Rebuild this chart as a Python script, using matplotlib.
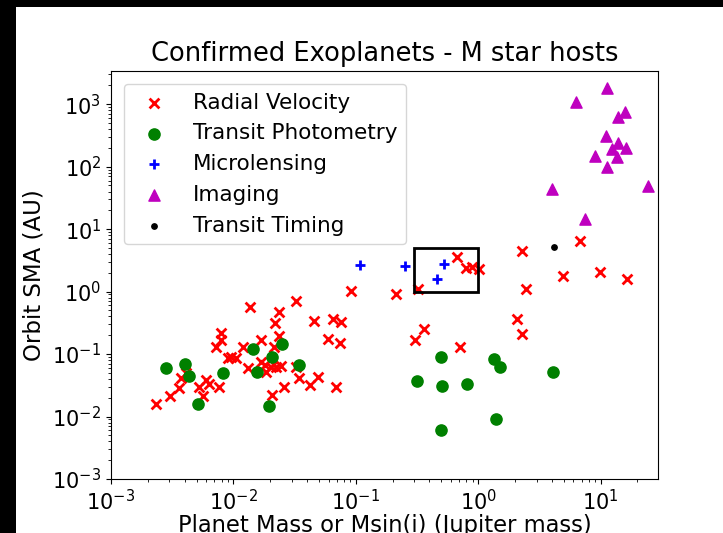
import matplotlib
matplotlib.use('Agg')
import matplotlib.pyplot as plt
from matplotlib.patches import Rectangle

# planet mass (Jupiter masses) and orbit semi-major axis (AU)
rv_mass = [0.00234, 0.00306, 0.00358, 0.00374, 0.00411, 0.00528, 0.00562, 0.0060, 0.00638, 0.00769,
           0.00723, 0.00794, 0.00794, 0.00899, 0.00959, 0.01054, 0.01193, 0.0131, 0.0138, 0.0169,
           0.0169, 0.0180, 0.0185, 0.0204, 0.0208, 0.0213, 0.0217, 0.0224, 0.0238, 0.0238,
           0.0246, 0.0258, 0.0326, 0.0326, 0.0347, 0.0419, 0.0490, 0.0460, 0.0591, 0.0650,
           0.0761, 0.0737, 0.0693, 0.0918, 0.214, 0.322, 0.676, 0.801, 0.897, 1.02,
           2.30, 6.76, 4.93, 9.85, 16.6, 2.48, 2.09, 2.28, 0.360, 0.303, 0.706]
rv_sma = [0.0158, 0.0215, 0.0289, 0.0409, 0.0502, 0.0300, 0.0213, 0.0384, 0.0331, 0.0300,
          0.131, 0.167, 0.219, 0.0853, 0.0906, 0.0853, 0.128, 0.059, 0.558, 0.167,
          0.0753, 0.0667, 0.0521, 0.0626, 0.0221, 0.128, 0.310, 0.0626, 0.475, 0.194,
          0.0643, 0.0300, 0.705, 0.0626, 0.0409, 0.0319, 0.0434, 0.337, 0.174, 0.359,
          0.329, 0.148, 0.0300, 1.02, 0.902, 1.12, 3.53, 2.35, 2.44, 2.29,
          4.45, 6.43, 1.79, 2.07, 1.58, 1.12, 0.363, 0.209, 0.251, 0.167, 0.131]

tr_mass = [0.00282, 0.00406, 0.00437, 0.00518, 0.00819, 0.0144, 0.0157, 0.0208, 0.0197, 0.0251,
           0.0343, 0.500, 1.35, 1.50, 4.09, 0.316, 0.503, 0.810, 1.39, 0.500]
tr_sma = [0.059, 0.0692, 0.045, 0.0158, 0.0491, 0.119, 0.0521, 0.0885, 0.0147, 0.145,
          0.0667, 0.0906, 0.0822, 0.0626, 0.0509, 0.037, 0.0311, 0.0331, 0.00902, 0.00601]

ml_mass = [0.109, 0.251, 0.525, 0.464]
ml_sma = [2.65, 2.56, 2.72, 1.57]

im_mass = [11.2, 6.27, 16.0, 13.9, 11.0, 13.9, 12.5, 16.1, 13.7, 8.97, 11.2, 24.5, 3.99, 7.53]
im_sma = [1824, 1088, 753, 626, 307, 235, 195, 200, 144, 147, 97, 49.3, 43.6, 14.3]

tt_mass = [4.17]
tt_sma = [5.21]

# box around the Jupiter-like region
box_mass = (0.3, 1.0)
box_sma = (1.0, 5.0)

fig = plt.figure(figsize=(7.23, 5.33), dpi=100, facecolor='white')
# black strips along the left and top edges, as in the original screenshot
fig.patches.append(Rectangle((0, 0), 16 / 723, 1, transform=fig.transFigure,
                             facecolor='black', edgecolor='none'))
fig.patches.append(Rectangle((0, 526 / 533), 1, 7 / 533, transform=fig.transFigure,
                             facecolor='black', edgecolor='none'))
ax = fig.add_axes([111 / 723, 54 / 533, 547 / 723, 408 / 533])

ax.scatter(rv_mass, rv_sma, marker='x', color='red', s=50, linewidths=2, label='Radial Velocity')
ax.scatter(tr_mass, tr_sma, marker='o', color='green', s=65, label='Transit Photometry')
ax.scatter(ml_mass, ml_sma, marker='+', color='blue', s=55, linewidths=2, label='Microlensing')
ax.scatter(im_mass, im_sma, marker='^', color='m', s=65, label='Imaging')
ax.scatter(tt_mass, tt_sma, marker='.', color='black', s=60, label='Transit Timing')

ax.add_patch(Rectangle((box_mass[0], box_sma[0]), box_mass[1] - box_mass[0], box_sma[1] - box_sma[0],
                       fill=False, edgecolor='black', linewidth=2))

ax.set_xscale('log')
ax.set_yscale('log')
ax.set_xlim(1e-3, 29.5)
ax.set_ylim(1e-3, 3400)
ax.tick_params(labelsize=15)
ax.set_title('Confirmed Exoplanets - M star hosts', fontsize=18.5, pad=7)
ax.set_xlabel('Planet Mass or Msin(i) (Jupiter mass)', fontsize=16.3, labelpad=0)
ax.set_ylabel('Orbit SMA (AU)', fontsize=16.5, labelpad=5)
ax.legend(loc='upper left', fontsize=15.5, scatterpoints=1, borderaxespad=0.6)

plt.savefig('out.png', dpi=100, facecolor=fig.get_facecolor())
